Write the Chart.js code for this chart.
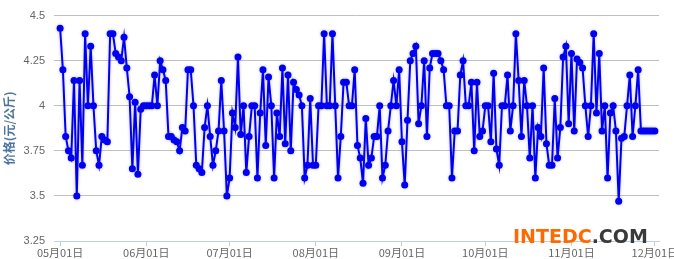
<!DOCTYPE html>
<html>
<head>
<meta charset="utf-8">
<title>价格走势</title>
<script src="https://cdn.jsdelivr.net/npm/chart.js@4.4.0/dist/chart.umd.min.js"></script>
<style>
  html, body { margin: 0; padding: 0; background: #fff; overflow: hidden; width: 674px; height: 259px; }
  #wrap { position: relative; width: 700px; height: 259px; }
</style>
</head>
<body>
<div id="wrap"><canvas id="chart-price" width="700" height="259"></canvas></div>
<script>
// daily price, one array per month (元/公斤)
var may = [4.43, 4.20, 3.83, 3.75, 3.71, 4.14, 3.50, 4.14, 3.67, 4.40, 4.00, 4.33, 4.00, 3.75, 3.67, 3.83,
  3.81, 3.80, 4.40, 4.40, 4.29, 4.27, 4.25, 4.38, 4.21, 4.05, 3.65, 4.02, 3.62, 3.98, 4.00];
var jun = [4.00, 4.00, 4.00, 4.17, 4.00, 4.25, 4.20, 4.14, 3.83, 3.83, 3.81, 3.80, 3.75, 3.88, 3.86,
  4.20, 4.20, 4.00, 3.67, 3.65, 3.63, 3.88, 4.00, 3.83, 3.67, 3.75, 3.86, 4.14, 3.86, 3.50];
var jul = [3.60, 3.96, 3.88, 4.27, 3.84, 4.00, 3.63, 3.83, 4.00, 4.00, 3.60, 3.96, 4.20, 3.78, 4.16, 4.00,
  3.60, 3.96, 3.83, 4.21, 3.79, 4.17, 3.75, 4.13, 4.09, 4.06, 4.00, 3.60, 3.67, 4.04, 3.67];
var aug = [3.67, 4.00, 4.00, 4.40, 4.00, 4.00, 4.40, 4.00, 3.60, 3.83, 4.13, 4.13, 4.00, 4.00, 4.20, 3.78,
  3.71, 3.57, 3.93, 3.67, 3.71, 3.83, 3.83, 4.00, 3.60, 3.67, 3.86, 4.00, 4.14, 4.00, 4.20];
var sep = [3.80, 3.56, 3.92, 4.25, 4.29, 4.33, 3.90, 4.00, 4.25, 3.83, 4.21, 4.29, 4.29, 4.29, 4.25,
  4.20, 4.00, 4.00, 3.60, 3.86, 3.86, 4.17, 4.25, 4.00, 4.00, 4.13, 3.75, 4.13, 3.83, 3.86];
var oct = [4.00, 4.00, 3.80, 4.18, 3.76, 3.67, 4.00, 4.00, 4.17, 3.86, 4.00, 4.40, 4.14, 3.83, 4.14, 4.00,
  3.71, 4.00, 3.60, 3.88, 3.83, 4.21, 3.79, 3.67, 3.67, 4.04, 3.71, 3.88, 4.27, 4.33, 3.90];
var nov = [4.29, 3.86, 4.26, 4.24, 4.21, 4.00, 3.83, 4.00, 4.40, 3.96, 4.29, 3.86, 4.00, 3.60, 3.96,
  4.00, 3.86, 3.47, 3.82, 3.83, 4.00, 4.17, 3.83, 4.00, 4.20, 3.86, 3.86, 3.86, 3.86, 3.86];
var dec = [3.86];

var months = [may, jun, jul, aug, sep, oct, nov, dec];
var monthLabels = ['05月01日', '06月01日', '07月01日', '08月01日', '09月01日', '10月01日', '11月01日', '12月01日'];
var yTicks = [3.25, 3.5, 3.75, 4, 4.25, 4.5];
var yTitle = '价格(元/公斤)';

// x = day index since 05月01日, month ticks sit on the first day of each month
var points = [];
var monthStarts = [];
months.forEach(function(m) {
  monthStarts.push(points.length);
  m.forEach(function(v) { points.push({ x: points.length, y: v }); });
});

// soft halo under the line, like the original
var lineGlow = {
  id: 'lineGlow',
  beforeDatasetsDraw: function(chart) {
    chart.ctx.save();
    chart.ctx.shadowColor = 'rgba(60,60,255,0.35)';
    chart.ctx.shadowBlur = 3;
  },
  afterDatasetsDraw: function(chart) {
    chart.ctx.restore();
  }
};

var watermark = {
  id: 'watermark',
  afterDraw: function(chart) {
    var ctx = chart.ctx;
    ctx.save();
    ctx.font = 'bold 19px "DejaVu Sans", sans-serif';
    ctx.textBaseline = 'alphabetic';
    ctx.fillStyle = '#ff6a00';
    ctx.fillText('INTEDC', 513, 243);
    var w = ctx.measureText('INTEDC').width;
    ctx.fillStyle = '#3a3a3a';
    ctx.fillText('.COM', 513 + w, 243);
    ctx.restore();
  }
};

new Chart(document.getElementById('chart-price'), {
  type: 'line',
  data: {
    datasets: [{
      data: points,
      borderColor: '#0000ee',
      backgroundColor: '#0000ee',
      borderWidth: 2,
      pointRadius: 3.5,
      pointBorderWidth: 0,
      tension: 0
    }]
  },
  options: {
    responsive: false,
    animation: false,
    layout: { padding: { top: 10, right: 41, left: 0, bottom: 0 } },
    plugins: { legend: { display: false }, tooltip: { enabled: false } },
    scales: {
      x: {
        type: 'linear',
        min: -2.2,
        max: 215.5,
        afterBuildTicks: function(scale) {
          scale.ticks = monthStarts.map(function(d) { return { value: d }; });
        },
        afterFit: function(scale) { scale.height = 18; },
        grid: { drawOnChartArea: false, color: '#c0d0e0', tickLength: 5 },
        border: { color: '#c0d0e0' },
        ticks: {
          autoSkip: false,
          maxRotation: 0,
          padding: 0,
          color: '#666',
          font: { size: 11, family: '"Noto Sans CJK SC", sans-serif' },
          callback: function(v) {
            var k = monthStarts.indexOf(v);
            return k >= 0 ? monthLabels[k] : '';
          }
        }
      },
      y: {
        min: 3.25,
        max: 4.5,
        afterBuildTicks: function(scale) {
          scale.ticks = yTicks.map(function(v) { return { value: v }; });
        },
        afterFit: function(scale) { scale.width = 54; },
        border: { display: false },
        grid: {
          drawTicks: false,
          color: function(c) { return c.tick && c.tick.value === 3.25 ? 'rgba(0,0,0,0)' : '#c0c0c0'; }
        },
        ticks: {
          padding: 9,
          color: '#666',
          font: { size: 11, family: '"Liberation Sans", Arial, sans-serif' },
          callback: function(v) { return String(v); }
        },
        title: {
          display: true,
          text: yTitle,
          color: '#4d759e',
          padding: { top: 2, bottom: 0 },
          font: { size: 12, weight: 'bold', family: '"Noto Sans CJK SC", sans-serif' }
        }
      }
    }
  },
  plugins: [lineGlow, watermark]
});
</script>
</body>
</html>
